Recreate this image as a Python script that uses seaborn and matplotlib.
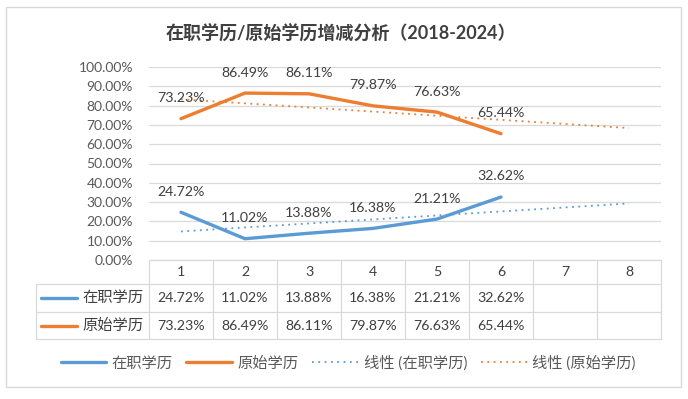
import matplotlib.pyplot as plt
import numpy as np
import pandas as pd
import seaborn as sns
from matplotlib.lines import Line2D
from matplotlib.patches import Rectangle

# data
periods = [1, 2, 3, 4, 5, 6]
columns = [1, 2, 3, 4, 5, 6, 7, 8]
onjob = [24.72, 11.02, 13.88, 16.38, 21.21, 32.62]
original = [73.23, 86.49, 86.11, 79.87, 76.63, 65.44]
series_names = ['在职学历', '原始学历']
trend_names = ['线性 (在职学历)', '线性 (原始学历)']
colors = ['#5b9bd5', '#ed7d31']
yticks = [0, 10, 20, 30, 40, 50, 60, 70, 80, 90, 100]
title = '在职学历/原始学历增减分析（2018-2024）'

sns.set_theme(style='white')
plt.rcParams['font.family'] = ['Lato', 'Noto Sans CJK SC', 'DejaVu Sans']

W, H = 688, 399
fig = plt.figure(figsize=(W / 100, H / 100), dpi=100)
ax = fig.add_axes([149 / W, 1 - 260 / H, 512 / W, 193 / H])

grid_c = '#d9d9d9'
text_c = '#404040'
dotted = (0, (1, 2.5))

# trend lines (linear fit, forecast forward to 8)
trend_x = np.array(columns, dtype=float)
for vals, c in zip([onjob, original], colors):
    k, b = np.polyfit(periods, vals, 1)
    sns.lineplot(x=trend_x, y=k * trend_x + b, color=c, lw=1.3,
                 linestyle=dotted, ax=ax)

df = pd.DataFrame({
    'period': periods * 2,
    'value': onjob + original,
    'series': [series_names[0]] * len(onjob) + [series_names[1]] * len(original),
})
sns.lineplot(data=df, x='period', y='value', hue='series', hue_order=series_names,
             palette=dict(zip(series_names, colors)), lw=2.4, ax=ax,
             legend=False, solid_capstyle='round')

for vals in [onjob, original]:
    for x, v in zip(periods, vals):
        ax.annotate(f'{v:.2f}%', (x, v), xytext=(0, 14.8), textcoords='offset points',
                    ha='center', va='center', fontsize=10.2, color=text_c)

ax.set_xlim(0.5, 8.5)
ax.set_ylim(0, 100)
ax.set_yticks(yticks)
ax.set_yticklabels([f'{v:.2f}%' for v in yticks], fontsize=10, color='#595959')
ax.set_xticks([])
ax.tick_params(axis='y', length=0, pad=11.5)
ax.grid(axis='y', color=grid_c, lw=0.9)
ax.set_xlabel('')
ax.set_ylabel('')
for s in ax.spines.values():
    s.set_visible(False)


# data table under the plot
def ay(py):
    return (260 - py) / 193


def dx(px):
    return 0.5 + (px - 149) / 64


tr = ax.get_xaxis_transform()
line_kw = dict(transform=tr, clip_on=False, color=grid_c, lw=0.9)
ax.plot([0.5, 8.5], [ay(260), ay(260)], **line_kw)
for py in [284.3, 312.3, 339.3]:
    ax.plot([dx(36.3), 8.5], [ay(py), ay(py)], **line_kw)
for x in np.arange(0.5, 9.0, 1.0):
    ax.plot([x, x], [ay(260), ay(339.3)], **line_kw)
ax.plot([dx(36.3), dx(36.3)], [ay(284.3), ay(339.3)], **line_kw)

for c in columns:
    ax.text(c, ay(272), str(c), transform=tr, ha='center', va='center',
            fontsize=10.2, color=text_c)

for vals, name, c, py in zip([onjob, original], series_names, colors, [298, 326]):
    for x, v in zip(periods, vals):
        ax.text(x, ay(py), f'{v:.2f}%', transform=tr, ha='center', va='center',
                fontsize=10.2, color=text_c)
    ax.text(dx(143), ay(py), name, transform=tr, ha='right', va='center',
            fontsize=11, color=text_c)
    ax.plot([dx(40.7), dx(76.7)], [ay(py), ay(py)], transform=tr, clip_on=False,
            color=c, lw=2.4, solid_capstyle='round')

# legend
handles = [
    Line2D([], [], color=colors[0], lw=2.4, solid_capstyle='round'),
    Line2D([], [], color=colors[1], lw=2.4, solid_capstyle='round'),
    Line2D([], [], color=colors[0], lw=1.3, linestyle=dotted),
    Line2D([], [], color=colors[1], lw=1.3, linestyle=dotted),
]
leg = fig.legend(handles, series_names + trend_names, loc='center',
                 bbox_to_anchor=(348 / W, 1 - 363 / H), ncol=4, frameon=False,
                 fontsize=11, handlelength=3.0, handletextpad=0.35, columnspacing=0.9)
for t in leg.get_texts():
    t.set_color('#595959')

fig.text(341 / W, 1 - 33 / H, title, ha='center', va='center', fontsize=13,
         fontweight='bold', color=text_c)

fig.patches.append(Rectangle((6 / W, 1 - 387 / H), 675 / W, 380 / H,
                             transform=fig.transFigure, fill=False, ec=grid_c, lw=1))

fig.savefig('out.png', dpi=100)
plt.close(fig)
